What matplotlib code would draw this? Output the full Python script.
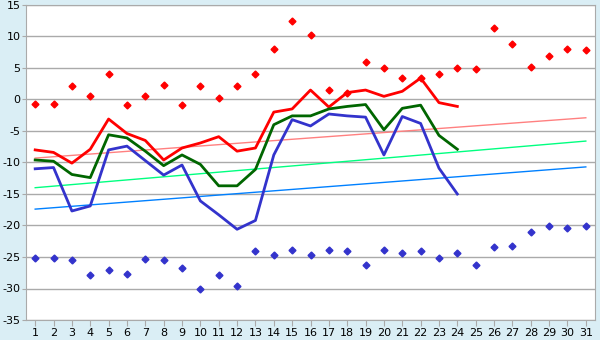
import numpy as np
import matplotlib
matplotlib.use("Agg")
import matplotlib.pyplot as plt

# ============================================================
# Data
# ============================================================

days = list(range(1, 32))
days_obs = list(range(1, 25))

t_max = [-8.0, -8.4, -10.1, -7.9, -3.1, -5.4, -6.5, -9.6, -7.7, -6.9,
         -5.9, -8.2, -7.7, -2.0, -1.5, 1.5, -1.2, 1.1, 1.5, 0.5,
         1.3, 3.4, -0.5, -1.1]
t_mean = [-9.6, -9.8, -11.9, -12.4, -5.6, -6.1, -8.2, -10.5, -8.8, -10.3,
          -13.7, -13.7, -11.1, -4.0, -2.6, -2.6, -1.5, -1.1, -0.8, -4.8,
          -1.4, -0.9, -5.7, -7.9]
t_min = [-11.0, -10.8, -17.7, -16.9, -8.0, -7.4, -9.7, -12.0, -10.4, -16.1,
         -18.3, -20.6, -19.2, -8.8, -3.2, -4.2, -2.3, -2.6, -2.8, -8.8,
         -2.7, -3.8, -10.9, -15.0]

record_high = [-0.7, -0.7, 2.1, 0.5, 4.0, -0.9, 0.5, 2.3, -0.9, 2.1,
               0.2, 2.1, 4.0, 8.0, 12.5, 10.2, 1.5, 1.0, 5.9, 5.0,
               3.4, 3.4, 4.0, 5.0, 4.8, 11.3, 8.8, 5.2, 6.9, 8.0, 7.9]
record_low = [-25.2, -25.2, -25.5, -27.9, -27.1, -27.7, -25.3, -25.5, -26.7, -30.1,
              -27.9, -29.6, -24.0, -24.7, -23.9, -24.7, -23.9, -24.0, -26.3, -23.9,
              -24.4, -24.0, -25.2, -24.4, -26.3, -23.4, -23.3, -21.0, -20.1, -20.4, -20.1]

# normal (trend) lines: value on day 1 and on day 31
norm_days = [1, 31]
norm_max = [-9.3, -2.9]
norm_mean = [-14.0, -6.6]
norm_min = [-17.4, -10.7]

y_ticks = list(range(-35, 16, 5))

# ============================================================
# Plot
# ============================================================

bg = "#daeef5"
grid_c = "#aaaaaa"

fig = plt.figure(figsize=(6, 3.4), dpi=100, facecolor=bg)
ax = fig.add_axes([26 / 600, 20 / 340, 569 / 600, 315 / 340])
ax.set_facecolor("white")

ax.plot(norm_days, norm_max, color="#ff8080", lw=1)
ax.plot(norm_days, norm_mean, color="#00ff80", lw=1)
ax.plot(norm_days, norm_min, color="#0080ff", lw=1)

ax.plot(days_obs, t_max, color="#ff0000", lw=2)
ax.plot(days_obs, t_mean, color="#006600", lw=2)
ax.plot(days_obs, t_min, color="#3333cc", lw=2)

ax.plot(days, record_high, ls="none", marker="D", ms=3.5, color="#ff0000")
ax.plot(days, record_low, ls="none", marker="D", ms=3.5, color="#3333cc")

ax.set_xlim(0.5, 31.5)
ax.set_ylim(-35, 15)
ax.set_xticks(days)
ax.set_yticks(y_ticks)
ax.set_yticklabels([str(v) for v in y_ticks])
ax.yaxis.grid(True, color=grid_c, lw=1)
ax.set_axisbelow(True)

for s in ax.spines.values():
    s.set_color(grid_c)
ax.tick_params(axis="both", colors=grid_c, labelcolor="black", labelsize=8,
               length=4, pad=2)
ax.tick_params(axis="y", length=3, pad=1)

fig.savefig("out.png", dpi=100, facecolor=bg)
